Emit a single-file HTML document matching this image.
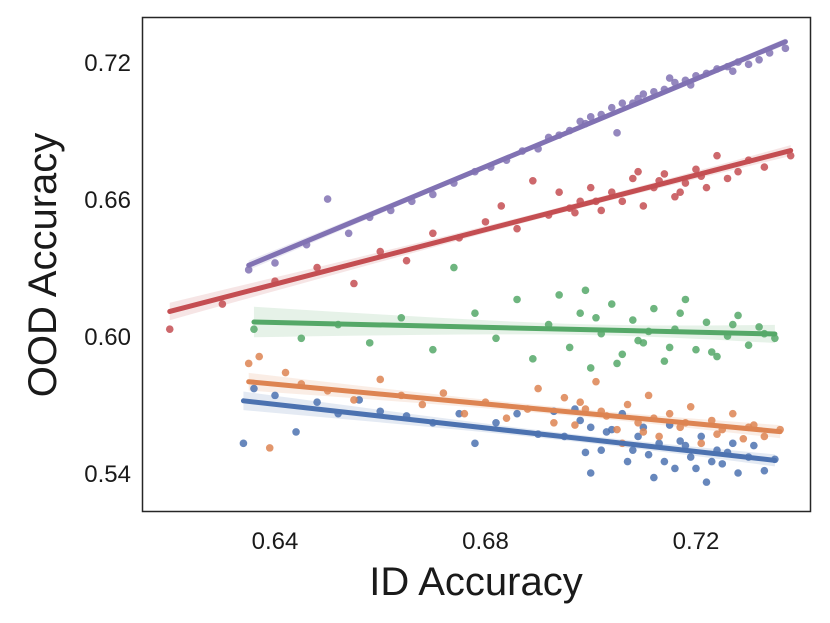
<!DOCTYPE html>
<html><head><meta charset="utf-8"><style>
html,body{margin:0;padding:0;background:#fff;}
svg{display:block;font-family:"Liberation Sans","DejaVu Sans",sans-serif;}
</style></head><body>
<svg id="chart" width="830" height="623" viewBox="0 0 830 623" xmlns="http://www.w3.org/2000/svg">
<rect x="0" y="0" width="830" height="623" fill="#fff"/>
<g id="bands"></g>
<g id="points"></g>
<g id="lines"></g>
<rect x="142.5" y="17.5" width="668" height="494" fill="none" stroke="#262626" stroke-width="1.5"/>
<g id="ticks"></g>
<text x="476" y="595" font-size="40" text-anchor="middle" fill="#1a1a1a">ID Accuracy</text>
<text x="56" y="265" font-size="40" text-anchor="middle" fill="#1a1a1a" transform="rotate(-90 56 265)">OOD Accuracy</text>
</svg>
<script>
const xTicks = [0.64, 0.68, 0.72];
const yTicks = [0.54, 0.60, 0.66, 0.72];
const seriesNames = ["blue", "orange", "green", "red", "purple"];
const seriesColors = ["#4c72b0", "#dd8452", "#55a868", "#c44e52", "#8172b3"];
const blueX = [0.634,0.636,0.640,0.644,0.648,0.652,0.656,0.660,0.665,0.670,0.675,0.678,0.682,0.686,0.690,0.693,0.695,0.697,0.699,0.700,0.702,0.704,0.706,0.707,0.709,0.710,0.712,0.713,0.715,0.716,0.718,0.719,0.721,0.722,0.724,0.725,0.727,0.728,0.730,0.731,0.733,0.735,0.700,0.708,0.714,0.720,0.703,0.711,0.717,0.723,0.698,0.726];
const blueY = [0.553,0.577,0.574,0.558,0.571,0.566,0.572,0.567,0.565,0.562,0.566,0.553,0.562,0.566,0.557,0.567,0.556,0.568,0.549,0.560,0.550,0.559,0.566,0.545,0.556,0.560,0.538,0.553,0.561,0.542,0.552,0.547,0.556,0.536,0.550,0.544,0.553,0.540,0.547,0.552,0.541,0.546,0.540,0.550,0.545,0.542,0.558,0.548,0.554,0.545,0.563,0.549];
const orangeX = [0.635,0.637,0.639,0.642,0.645,0.650,0.655,0.660,0.664,0.668,0.672,0.676,0.680,0.684,0.688,0.690,0.693,0.695,0.697,0.699,0.701,0.703,0.705,0.707,0.709,0.711,0.713,0.715,0.717,0.719,0.721,0.723,0.725,0.727,0.729,0.731,0.733,0.736,0.698,0.706,0.712,0.702,0.710,0.718,0.724,0.730];
const orangeY = [0.588,0.591,0.551,0.584,0.579,0.576,0.572,0.581,0.574,0.570,0.575,0.566,0.571,0.564,0.568,0.577,0.562,0.573,0.561,0.568,0.580,0.565,0.559,0.570,0.562,0.574,0.556,0.566,0.560,0.569,0.553,0.563,0.559,0.566,0.555,0.561,0.556,0.559,0.571,0.553,0.564,0.567,0.558,0.562,0.557,0.560];
const greenX = [0.636,0.645,0.652,0.658,0.664,0.670,0.674,0.678,0.682,0.686,0.689,0.692,0.694,0.696,0.698,0.700,0.702,0.704,0.706,0.708,0.710,0.712,0.714,0.716,0.718,0.720,0.722,0.724,0.726,0.728,0.730,0.732,0.735,0.699,0.705,0.711,0.717,0.723,0.701,0.709,0.715,0.727,0.733];
const greenY = [0.603,0.599,0.605,0.597,0.608,0.594,0.630,0.610,0.599,0.616,0.590,0.605,0.618,0.595,0.610,0.586,0.601,0.614,0.592,0.607,0.597,0.612,0.589,0.603,0.616,0.594,0.606,0.591,0.600,0.609,0.596,0.604,0.599,0.620,0.588,0.602,0.610,0.593,0.608,0.598,0.595,0.605,0.601];
const redX = [0.620,0.630,0.640,0.648,0.655,0.660,0.665,0.670,0.675,0.680,0.683,0.686,0.689,0.692,0.694,0.696,0.698,0.700,0.702,0.704,0.706,0.708,0.710,0.712,0.714,0.716,0.718,0.720,0.722,0.724,0.726,0.728,0.730,0.733,0.738,0.701,0.709,0.717,0.697,0.713,0.721];
const redY = [0.603,0.614,0.624,0.630,0.623,0.637,0.633,0.645,0.643,0.650,0.657,0.647,0.668,0.653,0.663,0.656,0.659,0.665,0.655,0.663,0.659,0.669,0.657,0.665,0.671,0.661,0.667,0.673,0.665,0.679,0.669,0.672,0.677,0.674,0.679,0.659,0.672,0.663,0.654,0.668,0.670];
const purpleX = [0.635,0.640,0.646,0.650,0.654,0.658,0.662,0.666,0.670,0.674,0.678,0.681,0.684,0.687,0.690,0.692,0.694,0.696,0.698,0.700,0.702,0.704,0.706,0.708,0.710,0.712,0.714,0.716,0.718,0.720,0.722,0.724,0.726,0.728,0.730,0.732,0.734,0.737,0.705,0.715,0.699,0.709,0.719,0.727];
const purpleY = [0.629,0.632,0.640,0.660,0.645,0.652,0.655,0.659,0.662,0.667,0.672,0.674,0.677,0.681,0.682,0.687,0.688,0.690,0.694,0.696,0.697,0.700,0.702,0.702,0.706,0.707,0.708,0.711,0.712,0.714,0.715,0.717,0.718,0.720,0.719,0.721,0.724,0.726,0.689,0.713,0.693,0.704,0.710,0.716];
const seriesX = [blueX, orangeX, greenX, redX, purpleX];
const seriesY = [blueY, orangeY, greenY, redY, purpleY];

const NS = "http://www.w3.org/2000/svg";
function xScale(v){ return 275 + (v - 0.64) * 5262; }
function yScale(v){ return 473 - (v - 0.54) * 2283; }
function mk(tag, attrs, parent){
  const e = document.createElementNS(NS, tag);
  for (const k in attrs) e.setAttribute(k, attrs[k]);
  parent.appendChild(e); return e;
}
const gT = document.getElementById("ticks");
xTicks.forEach(t => {
  const e = mk("text", {x: xScale(t), y: 549, "font-size": 24, "text-anchor": "middle", fill: "#1a1a1a"}, gT);
  e.textContent = t.toFixed(2);
  
  
});
yTicks.forEach(t => {
  const e = mk("text", {x: 131, y: yScale(t) + 9, "font-size": 24, "text-anchor": "end", fill: "#1a1a1a"}, gT);
  e.textContent = t.toFixed(2);
  
  
});
const gB = document.getElementById("bands"), gP = document.getElementById("points"), gL = document.getElementById("lines");
seriesX.forEach((xs, i) => {
  const ys = seriesY[i], n = xs.length, col = seriesColors[i];
  let mx = 0, my = 0; for (let k=0;k<n;k++){ mx += xs[k]; my += ys[k]; } mx/=n; my/=n;
  let sxx = 0, sxy = 0; for (let k=0;k<n;k++){ sxx += (xs[k]-mx)**2; sxy += (xs[k]-mx)*(ys[k]-my); }
  const b = sxy / sxx, a = my - b*mx;
  let sse = 0; for (let k=0;k<n;k++){ sse += (ys[k]-a-b*xs[k])**2; }
  const s = Math.sqrt(sse/(n-2));
  const x0 = Math.min(...xs), x1 = Math.max(...xs);
  const up = [], dn = [];
  for (let j=0;j<=20;j++){
    const x = x0 + (x1-x0)*j/20;
    const se = 1.6*s*Math.sqrt(1/n + (x-mx)**2/sxx);
    up.push(xScale(x)+","+yScale(a+b*x+se));
    dn.unshift(xScale(x)+","+yScale(a+b*x-se));
  }
  const band = mk("polygon", {points: up.concat(dn).join(" "), fill: col, "fill-opacity": 0.15}, gB);
  
  
  for (let k=0;k<n;k++){
    const c = mk("circle", {cx: xScale(xs[k]), cy: yScale(ys[k]), r: 3.8, fill: col, "fill-opacity": 0.85}, gP);
    
    
  }
  const l = mk("line", {x1: xScale(x0), y1: yScale(a+b*x0), x2: xScale(x1), y2: yScale(a+b*x1), stroke: col, "stroke-width": 5, "stroke-linecap": "round"}, gL);
  
  
});
</script>
</body></html>
